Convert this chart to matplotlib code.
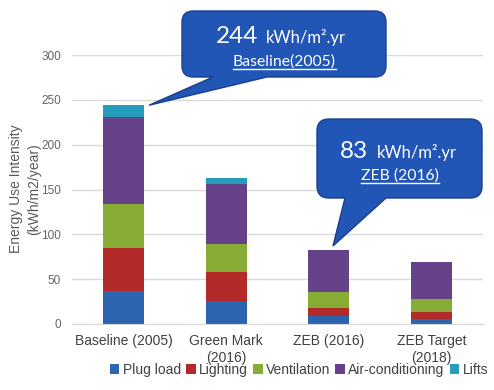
import numpy as np
import matplotlib
matplotlib.use("Agg")
import matplotlib.pyplot as plt
from matplotlib.path import Path
from matplotlib.patches import PathPatch
from matplotlib.lines import Line2D
from matplotlib.transforms import IdentityTransform

# data
categories = ["Baseline (2005)", "Green Mark\n(2016)", "ZEB (2016)", "ZEB Target\n(2018)"]
series_names = ["Plug load", "Lighting", "Ventilation", "Air-conditioning", "Lifts"]
plug_load = [37, 26, 9, 6]
lighting = [48, 32, 9, 7]
ventilation = [49, 31, 18, 15]
air_cond = [97, 67, 47, 41]
lifts = [13, 7, 0, 0]
yticks = [0, 50, 100, 150, 200, 250, 300]

colors = ["#2C64AF", "#B32B28", "#86AC35", "#654289", "#269DBA"]

W, H = 494, 390
fig = plt.figure(figsize=(W / 100, H / 100), dpi=100)
ax = fig.add_axes([72 / W, (H - 324) / H, 411 / W, 269 / H])

x = np.arange(len(categories))
bottom = np.zeros(len(categories))
for vals, name, c in zip([plug_load, lighting, ventilation, air_cond, lifts], series_names, colors):
    ax.bar(x, vals, 0.4, bottom=bottom, color=c, label=name, zorder=2)
    bottom += np.array(vals)
totals = bottom

ax.set_xlim(-0.5, 3.5)
ax.set_ylim(0, 300)
ax.set_yticks(yticks)
ax.set_xticks(x)
ax.set_xticklabels(categories, fontsize=10, color="#404040", family="Liberation Sans",
                   linespacing=1.3)
ax.tick_params(axis="y", labelsize=8.5, labelcolor="#666666", length=0, pad=8)
ax.tick_params(axis="x", length=0, pad=7)
for lab in ax.get_yticklabels():
    lab.set_family("Liberation Sans")
ax.yaxis.grid(True, color="#d9d9d9", lw=1, zorder=0)
ax.set_axisbelow(True)
for s in ["top", "right", "left"]:
    ax.spines[s].set_visible(False)
ax.spines["bottom"].set_color("#d9d9d9")

fig.text(25 / W, (H - 189) / H, "Energy Use Intensity\n(kWh/m2/year)", rotation=90,
         ha="center", va="center", multialignment="center", fontsize=10,
         color="#595959", family="Liberation Sans", linespacing=1.35)

ax.legend(loc="center", bbox_to_anchor=(299 / W, 20 / H), bbox_transform=fig.transFigure,
          ncol=5, frameon=False, handlelength=0.7, handleheight=0.7, handletextpad=0.25,
          columnspacing=0.35, prop={"family": "Liberation Sans", "size": 10},
          labelcolor="#404040", borderaxespad=0, borderpad=0)


def callout(x0, x1, top, bot, r, b0, b1, tip):
    yt, yb = H - top, H - bot
    verts = [(x0 + r, yb), (b0, yb), tip, (b1, yb), (x1 - r, yb),
             (x1, yb), (x1, yb + r), (x1, yt - r),
             (x1, yt), (x1 - r, yt), (x0 + r, yt),
             (x0, yt), (x0, yt - r), (x0, yb + r),
             (x0, yb), (x0 + r, yb), (x0 + r, yb)]
    codes = [Path.MOVETO, Path.LINETO, Path.LINETO, Path.LINETO, Path.LINETO,
             Path.CURVE3, Path.CURVE3, Path.LINETO,
             Path.CURVE3, Path.CURVE3, Path.LINETO,
             Path.CURVE3, Path.CURVE3, Path.LINETO,
             Path.CURVE3, Path.CURVE3, Path.CLOSEPOLY]
    p = PathPatch(Path(verts, codes), facecolor="#2156B6", edgecolor="#1B3F8C",
                  lw=1, transform=IdentityTransform())
    fig.add_artist(p)


tip1 = ax.transData.transform((0.25, totals[0]))
tip2 = ax.transData.transform((2.04, totals[2] + 4))
callout(182, 386, 11, 77, 11, 213, 267, tuple(tip1))
callout(317, 482, 119, 198, 12, 345, 386, tuple(tip2))

tf = IdentityTransform()
cfont = "Lato"
fig.text(258, H - 43, "%d" % round(totals[0]), transform=tf, ha="right", va="baseline",
         fontsize=17.5, color="white", family=cfont)
fig.text(266, H - 43, "kWh/m\u00b2.yr", transform=tf, ha="left", va="baseline",
         fontsize=12, color="white", family=cfont)
t1 = fig.text(284, H - 66, "Baseline(2005)", transform=tf, ha="center", va="baseline",
              fontsize=11.3, color="white", family=cfont)
fig.text(368, H - 158, "%d" % round(totals[2]), transform=tf, ha="right", va="baseline",
         fontsize=17.5, color="white", family=cfont)
fig.text(377, H - 158, "kWh/m\u00b2.yr", transform=tf, ha="left", va="baseline",
         fontsize=12, color="white", family=cfont)
t2 = fig.text(400, H - 180, "ZEB (2016)", transform=tf, ha="center", va="baseline",
              fontsize=11.3, color="white", family=cfont)

# underlines
fig.canvas.draw()
r = fig.canvas.get_renderer()
for t in [t1, t2]:
    bb = t.get_window_extent(r)
    yl = t.get_position()[1] - 3
    fig.add_artist(Line2D([bb.x0, bb.x1], [yl, yl], color="white", lw=1, transform=tf))

fig.savefig("out.png", dpi=100)
